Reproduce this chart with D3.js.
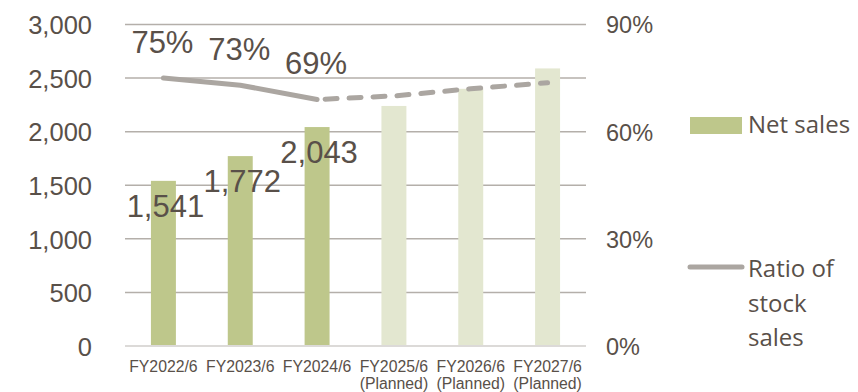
<!DOCTYPE html>
<html><head><meta charset="utf-8">
<script src="https://cdn.jsdelivr.net/npm/d3@7"></script>
<style>html,body{margin:0;padding:0;background:#fff;}svg{display:block;}</style>
</head><body>
<svg id="c" width="858" height="392"></svg>
<script>
const categories = ["FY2022/6","FY2023/6","FY2024/6","FY2025/6","FY2026/6","FY2027/6"];
const subLabels = ["","","","(Planned)","(Planned)","(Planned)"];
const netSales = [1541,1772,2043,2240,2400,2590];
const planned = [false,false,false,true,true,true];
const barLabels = ["1,541","1,772","2,043","","",""];
const ratio = [75,73,69,70,72,73.7];
const ratioLabels = ["75%","73%","69%","","",""];
const leftTicks = [0,500,1000,1500,2000,2500,3000];
const rightTicks = [0,30,60,90];

const svg = d3.select("#c");
const m = {l:125, r:272, t:24.5, b:46};
const W = 858, H = 392;
const x = d3.scaleBand().domain(categories).range([m.l, W - m.r]).paddingInner(0.675).paddingOuter(0.3375);
const y = d3.scaleLinear().domain([0,3000]).range([H - m.b, m.t]);
const y2 = d3.scaleLinear().domain([0,90]).range([H - m.b, m.t]);
const cx = c => x(c) + x.bandwidth()/2;
const textCol = "#595049";
const numFont = "'Liberation Sans', Arial, sans-serif";
const legFont = "'Open Sans', 'Noto Sans', sans-serif";

// grid
svg.append("g").selectAll("line").data(leftTicks.filter(d=>d>0)).join("line")
  .attr("x1", m.l).attr("x2", W - m.r)
  .attr("y1", d=>y(d)).attr("y2", d=>y(d))
  .attr("stroke","#b4afaa").attr("stroke-width",1.5);
svg.append("line").attr("x1", m.l).attr("x2", W - m.r)
  .attr("y1", y(0)).attr("y2", y(0)).attr("stroke","#dcdad8").attr("stroke-width",2);

// left axis
const la = svg.append("g").attr("transform",`translate(${m.l - 33},0)`)
  .call(d3.axisLeft(y).tickValues(leftTicks).tickSize(0).tickPadding(0).tickFormat(d3.format(",")));
la.select(".domain").remove();
la.selectAll("text").attr("font-family", numFont).attr("font-size", 25.5).attr("fill", textCol).attr("dy","0.36em");

// right axis
const ra = svg.append("g").attr("transform",`translate(${W - m.r + 20},0)`)
  .call(d3.axisRight(y2).tickValues(rightTicks).tickSize(0).tickPadding(0).tickFormat(d=>d+"%"));
ra.select(".domain").remove();
ra.selectAll("text").attr("font-family", numFont).attr("font-size", 23.5).attr("fill", textCol).attr("dy","0.36em");

// bars
svg.append("g").selectAll("rect").data(netSales).join("rect")
  .attr("x",(d,i)=>x(categories[i])).attr("width", x.bandwidth())
  .attr("y", d=>y(d)).attr("height", d=>y(0)-y(d) - 1)
  .attr("fill",(d,i)=> planned[i] ? "#e3e7d0" : "#bec78b");

// x labels
const xl = svg.append("g");
categories.forEach((c,i)=>{
  const t = xl.append("text").attr("x", cx(c)).attr("y", H - m.b + 25.5)
    .attr("text-anchor","middle").attr("font-family", numFont).attr("font-size",15.8).attr("fill", textCol);
  t.append("tspan").attr("x", cx(c)).text(c);
  if (subLabels[i]) t.append("tspan").attr("x", cx(c)).attr("dy", 17).text(subLabels[i]);
});

// line
const pts = ratio.map((v,i)=>[cx(categories[i]), y2(v)]);
const line = d3.line();
svg.append("path").attr("d", line(pts.slice(0,3))).attr("fill","none")
  .attr("stroke","#aba6a1").attr("stroke-width",5).attr("stroke-linecap","round").attr("stroke-linejoin","round");
svg.append("path").attr("d", line(pts.slice(2))).attr("fill","none")
  .attr("stroke","#aba6a1").attr("stroke-width",5).attr("stroke-linecap","round")
  .attr("stroke-dasharray","12,12").attr("stroke-dashoffset", -8);

// ratio labels
svg.append("g").selectAll("text").data(ratio).join("text")
  .attr("x",(d,i)=>cx(categories[i]) - 1).attr("y", d=>y2(d) - 25.5)
  .attr("text-anchor","middle").attr("font-family", numFont).attr("font-size",31).attr("fill", textCol)
  .text((d,i)=>ratioLabels[i]);

// bar labels
svg.append("g").selectAll("text").data(netSales).join("text")
  .attr("x",(d,i)=>cx(categories[i]) + 2).attr("y", d=>y(d) + 36)
  .attr("text-anchor","middle").attr("font-family", numFont).attr("font-size",31).attr("fill", textCol)
  .text((d,i)=>barLabels[i]);

// legend
const lg = svg.append("g");
lg.append("rect").attr("x",690).attr("y",117).attr("width",52).attr("height",17).attr("fill","#bec78b");
lg.append("text").attr("x",748).attr("y",133).attr("font-family",legFont).attr("font-size",24).attr("fill",textCol).text("Net sales");
lg.append("line").attr("x1",690).attr("x2",742).attr("y1",267).attr("y2",267)
  .attr("stroke","#aba6a1").attr("stroke-width",5).attr("stroke-linecap","round");
const lt = lg.append("text").attr("font-family",legFont).attr("font-size",24).attr("fill",textCol);
["Ratio of","stock","sales"].forEach((s,i)=> lt.append("tspan").attr("x",748).attr("y",277 + i*34.5).text(s));
</script>
</body></html>
